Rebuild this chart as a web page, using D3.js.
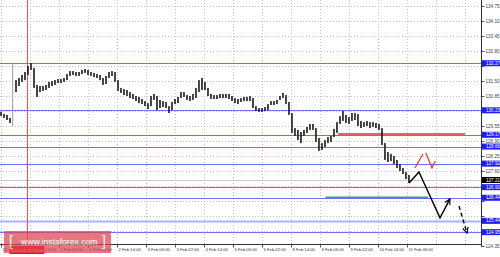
<!DOCTYPE html>
<html>
<head>
<meta charset="utf-8">
<script src="https://cdn.jsdelivr.net/npm/d3@7"></script>
<style>
html, body { margin: 0; padding: 0; background: #fff; overflow: hidden; }
svg text { font-family: "Liberation Sans", Arial, sans-serif; }
</style>
</head>
<body>
<div id="chart"></div>
<script>
// hours between two time labels, and hours between two drawn bars
const labelStep = 16;
const barStep = 1.655;

const timeLabels = ["28 Jan 2015", "31 Jan 14:00", "1 Feb 06:00", "1 Feb 22:00", "2 Feb 14:00",
  "3 Feb 06:00", "3 Feb 22:00", "4 Feb 14:00", "5 Feb 06:00", "5 Feb 22:00", "8 Feb 14:00",
  "9 Feb 06:00", "9 Feb 22:00", "10 Feb 14:00", "11 Feb 06:00", "", ""];

const priceTicks = [134.75, 134.10, 133.45, 132.80, 132.15, 131.50, 130.85, 130.20, 129.55,
  128.90, 128.25, 127.60, 126.95, 126.30, 125.65, 125.00, 124.35];

const barHigh = [130.16, 130.07, 130.03, 129.90, 132.28, 131.54, 131.63, 131.76, 131.89, 132.15,
  132.28, 132.06, 131.33, 131.28, 131.28, 131.33, 131.46, 131.50, 131.54, 131.59,
  131.59, 131.63, 131.80, 131.93, 131.93, 131.89, 131.89, 131.98, 132.02, 131.98,
  131.89, 131.85, 131.80, 131.76, 131.63, 131.72, 131.89, 131.93, 131.89, 131.54,
  131.20, 131.15, 131.11, 131.02, 130.94, 130.85, 130.81, 130.72, 130.63, 130.54,
  130.85, 130.94, 130.85, 130.68, 130.63, 130.59, 130.41, 130.59, 130.72, 130.81,
  131.02, 131.02, 130.89, 130.85, 130.94, 131.20, 131.54, 131.63, 131.46, 131.20,
  130.94, 130.89, 130.89, 130.94, 130.94, 130.94, 130.94, 130.85, 130.76, 130.72,
  130.76, 130.81, 130.81, 130.85, 130.76, 130.41, 130.33, 130.33, 130.37, 130.50,
  130.63, 130.63, 130.68, 130.85, 130.98, 130.89, 130.59, 130.11, 129.46, 129.38,
  129.29, 129.38, 129.51, 129.64, 129.64, 129.46, 129.03, 128.81, 128.94, 129.07,
  129.12, 129.42, 129.72, 129.98, 130.20, 130.03, 129.94, 130.11, 130.11, 130.07,
  129.77, 129.72, 129.77, 129.72, 129.72, 129.68, 129.64, 129.46, 128.81, 128.42,
  128.34, 128.25, 128.08, 127.90, 127.73, 127.56, 127.43];

const barLow = [129.98, 129.90, 129.81, 129.68, 129.55, 131.02, 131.28, 131.46, 131.54, 131.76,
  131.98, 131.20, 130.81, 131.02, 131.07, 131.11, 131.20, 131.28, 131.33, 131.41,
  131.41, 131.46, 131.54, 131.72, 131.76, 131.72, 131.72, 131.80, 131.85, 131.76,
  131.72, 131.67, 131.63, 131.54, 131.33, 131.37, 131.63, 131.72, 131.46, 131.07,
  130.98, 130.89, 130.85, 130.76, 130.72, 130.63, 130.54, 130.50, 130.41, 130.28,
  130.41, 130.68, 130.24, 130.33, 130.37, 130.33, 130.11, 130.24, 130.50, 130.54,
  130.76, 130.81, 130.68, 130.63, 130.68, 130.76, 131.02, 131.11, 131.11, 130.85,
  130.72, 130.72, 130.72, 130.76, 130.76, 130.76, 130.72, 130.63, 130.54, 130.50,
  130.59, 130.63, 130.63, 130.63, 130.33, 130.20, 130.16, 130.16, 130.20, 130.24,
  130.46, 130.46, 130.50, 130.68, 130.76, 130.50, 130.03, 129.25, 129.12, 128.94,
  128.81, 129.12, 129.25, 129.38, 129.38, 128.86, 128.47, 128.51, 128.64, 128.81,
  128.86, 129.07, 129.25, 129.64, 129.77, 129.68, 129.64, 129.77, 129.81, 129.55,
  129.46, 129.51, 129.55, 129.46, 129.51, 129.46, 129.38, 128.73, 128.08, 127.99,
  128.03, 127.90, 127.73, 127.60, 127.47, 127.25, 127.08];

// horizontal support / resistance levels (blue), with their axis labels
const levels = [132.27, 130.23, 129.17, 128.66, 127.92, 126.90, 126.44, 125.44, 124.95];
const bidPrice = 127.21;
const redLevel = { price: 129.20, from: 186, to: 256 };
const greenLevel = { price: 126.46, from: 179, to: 235.6 };
const verticalHour = 14.3;
const verticalLabel = "2015.01.29 15:00";

// forecast paths drawn on the right
const forecastHours = [225.1, 230.6, 242.2, 247.7];
const forecastPrices = [127.08, 127.56, 125.57, 126.39];
const dashedHours = [252.7, 257.1];
const dashedPrices = [126.08, 124.91];
const redHoursA = [228.4, 232.8];
const redPricesA = [127.73, 128.34];
const redHoursB = [234.4, 237.8, 239.5];
const redPricesB = [128.38, 127.73, 128.03];

const width = 500, height = 257;
const plotW = 481, plotH = 244;

const svg = d3.select("#chart").append("svg")
  .attr("width", width)
  .attr("height", height);

const x = d3.scaleLinear().domain([0, 256]).range([1, 465]);
const y = d3.scaleLinear().domain([124.35, 134.75]).range([246, 6]);

const tickHours = timeLabels.map((d, i) => i * labelStep);

// dotted grid
const grid = svg.append("g").attr("stroke", "#c4c4c4").attr("stroke-dasharray", "1,2");
grid.selectAll(".gx").data(tickHours).enter().append("line")
  .attr("x1", d => Math.round(x(d)) + 0.5).attr("x2", d => Math.round(x(d)) + 0.5)
  .attr("y1", 0).attr("y2", plotH);
grid.selectAll(".gy").data(priceTicks.filter(d => y(d) < plotH)).enter().append("line")
  .attr("x1", 0).attr("x2", plotW)
  .attr("y1", d => Math.round(y(d)) + 0.5).attr("y2", d => Math.round(y(d)) + 0.5);

// bid line
svg.append("line")
  .attr("x1", 0).attr("x2", plotW)
  .attr("y1", Math.round(y(bidPrice)) + 0.5).attr("y2", Math.round(y(bidPrice)) + 0.5)
  .attr("stroke", "#c8c8c8");

// blue levels
svg.selectAll(".level").data(levels).enter().append("line")
  .attr("x1", 0).attr("x2", plotW)
  .attr("y1", d => Math.round(y(d)) + 0.5).attr("y2", d => Math.round(y(d)) + 0.5)
  .attr("stroke", d => d === 125.44 ? "#a9b4ff" : "#6e6eff")
  .attr("stroke-width", d => d === 125.44 ? 2 : 1);

// red vertical line
svg.append("line")
  .attr("x1", Math.round(x(verticalHour)) + 0.5).attr("x2", Math.round(x(verticalHour)) + 0.5)
  .attr("y1", 0).attr("y2", plotH)
  .attr("stroke", "#ff4848");

// red and green levels
svg.append("line")
  .attr("x1", x(redLevel.from)).attr("x2", x(redLevel.to))
  .attr("y1", y(redLevel.price)).attr("y2", y(redLevel.price))
  .attr("stroke", "#ee2a2a").attr("stroke-width", 1.5);
svg.append("line")
  .attr("x1", x(greenLevel.from)).attr("x2", x(greenLevel.to))
  .attr("y1", y(greenLevel.price)).attr("y2", y(greenLevel.price))
  .attr("stroke", "#3f9a78").attr("stroke-width", 1.5);

// price bars
const bars = barHigh.map((h, i) => ({ hour: i * barStep, high: h, low: barLow[i] }));
svg.selectAll(".bar").data(bars).enter().append("rect")
  .attr("class", "bar")
  .attr("x", d => x(d.hour) - 0.8)
  .attr("width", d => (d.high - d.low) > 2 ? 1 : 1.6)
  .attr("y", d => y(d.high))
  .attr("height", d => Math.max(1, y(d.low) - y(d.high)))
  .attr("fill", d => (d.high - d.low) > 2 ? "#999" : "#1a1a1a");

// arrow marker
const defs = svg.append("defs");
defs.append("marker")
  .attr("id", "arrow")
  .attr("viewBox", "0 0 10 10")
  .attr("refX", 9).attr("refY", 5)
  .attr("markerWidth", 5).attr("markerHeight", 5)
  .attr("orient", "auto")
  .append("path")
  .attr("d", "M1,1 L9,5 L1,9")
  .attr("fill", "none").attr("stroke", "#000").attr("stroke-width", 1.6);

const line = d3.line().x(d => x(d[0])).y(d => y(d[1]));

svg.append("path")
  .attr("d", line(d3.zip(forecastHours, forecastPrices)))
  .attr("fill", "none").attr("stroke", "#000").attr("stroke-width", 1.4)
  .attr("marker-end", "url(#arrow)");

svg.append("path")
  .attr("d", line(d3.zip(dashedHours, dashedPrices)))
  .attr("fill", "none").attr("stroke", "#000").attr("stroke-width", 1.4)
  .attr("stroke-dasharray", "4,3")
  .attr("marker-end", "url(#arrow)");

[[redHoursA, redPricesA], [redHoursB, redPricesB]].forEach(p => {
  svg.append("path")
    .attr("d", line(d3.zip(p[0], p[1])))
    .attr("fill", "none").attr("stroke", "#f03030").attr("stroke-width", 1.2);
});

// right price axis; tick labels hidden where a level tag sits on top of them
const tagPrices = levels.concat([bidPrice]);
const covered = d => tagPrices.some(p => Math.abs(y(p) - y(d)) < 5.5);
const yAxis = svg.append("g")
  .attr("transform", `translate(${plotW + 0.5},0)`)
  .call(d3.axisRight(y).tickValues(priceTicks).tickSize(3)
    .tickFormat(d => covered(d) ? "" : d3.format(".2f")(d)));
yAxis.select(".domain").attr("d", `M0,0V${plotH + 3}`).attr("stroke", "#333");
yAxis.selectAll(".tick line").attr("stroke", "#555");
yAxis.selectAll("text").attr("x", 4).attr("font-size", 4.6).attr("fill", "#444")
  .attr("font-family", "Liberation Sans, Arial, sans-serif");

// highlighted level labels
const tags = levels.map(d => ({ price: d, fill: "#1c1cff" }))
  .concat([{ price: bidPrice, fill: "#000" }]);
const tag = svg.selectAll(".tag").data(tags).enter().append("g")
  .attr("transform", d => `translate(${plotW + 1},${y(d.price)})`);
tag.append("rect")
  .attr("x", 0).attr("y", -3).attr("width", 19).attr("height", 6)
  .attr("fill", d => d.fill);
tag.append("text")
  .attr("x", 4).attr("dy", "0.35em")
  .attr("font-size", 4.6).attr("fill", "#fff")
  .text(d => d3.format(".2f")(d.price));

// bottom time axis
const xAxis = svg.append("g")
  .attr("transform", `translate(0,${plotH + 0.5})`)
  .call(d3.axisBottom(x).tickValues(tickHours.slice(0, 15)).tickSize(3)
    .tickFormat((d, i) => timeLabels[i]));
xAxis.select(".domain").attr("d", `M0,0H${plotW}`).attr("stroke", "#333");
xAxis.selectAll(".tick line").attr("stroke", "#555");
xAxis.selectAll("text")
  .attr("text-anchor", "start").attr("x", 1).attr("y", 3.5)
  .attr("font-size", 4.2).attr("fill", "#333")
  .attr("font-family", "Liberation Sans, Arial, sans-serif");

// red time tag on the bottom axis
const vx = x(verticalHour);
svg.append("rect")
  .attr("x", vx - 17.5).attr("y", plotH + 2).attr("width", 35).attr("height", 8)
  .attr("fill", "#ff1010");
svg.append("text")
  .attr("x", vx).attr("y", plotH + 7.6)
  .attr("text-anchor", "middle").attr("font-size", 4.2).attr("fill", "#fff")
  .text(verticalLabel);

// watermark
const wm = svg.append("g").attr("opacity", 0.72);
wm.append("rect")
  .attr("x", 4).attr("y", 231).attr("width", 107).attr("height", 22)
  .attr("fill", "#dd4452");
wm.append("text").attr("x", 9).attr("y", 246).attr("font-size", 14).attr("fill", "#fff")
  .text("[");
wm.append("text").attr("x", 102).attr("y", 246).attr("font-size", 14).attr("fill", "#fff")
  .text("]");
wm.append("text").attr("x", 21).attr("y", 245).attr("font-size", 8.6).attr("fill", "#fff")
  .text("www.instaforex.com");
</script>
</body>
</html>
